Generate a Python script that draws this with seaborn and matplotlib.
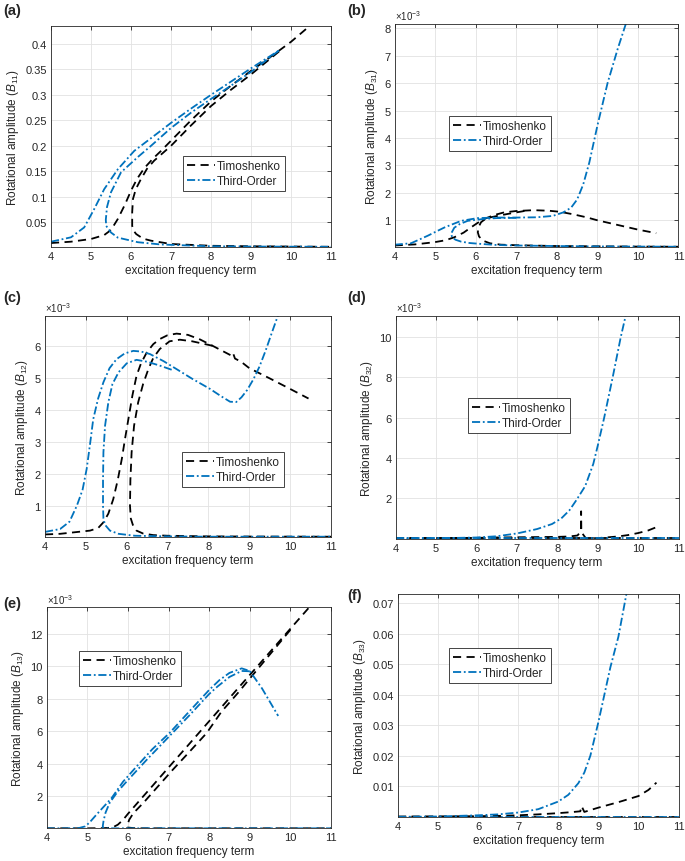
import matplotlib
matplotlib.use("Agg")
import matplotlib.pyplot as plt
import seaborn as sns

# ---------------- data ----------------
X_TICKS = [4, 5, 6, 7, 8, 9, 10, 11]
XLABEL = "excitation frequency term"
LEGEND_LABELS = ["Timoshenko", "Third-Order"]

# (a) B11
A_TIMO_UP_X = [4.0, 4.5, 5.0, 5.33, 5.5, 5.67, 5.85, 6.0, 6.15, 6.33, 6.55, 6.75, 7.0, 7.5, 8.0, 8.5, 9.0, 9.5, 10.0, 10.45]
A_TIMO_UP_Y = [0.0094, 0.012, 0.0173, 0.025, 0.035, 0.0565, 0.085, 0.112, 0.135, 0.156, 0.175, 0.19, 0.21, 0.25, 0.287, 0.318, 0.347, 0.375, 0.404, 0.434]
A_TIMO_MID_X = [9.7, 9.0, 8.5, 8.0, 7.5, 7.0, 6.58, 6.4, 6.25, 6.12, 6.05, 6.03, 6.03, 6.06, 6.13, 6.3, 6.5, 7.0, 8.0, 9.0, 10.0, 11.0]
A_TIMO_MID_Y = [0.385, 0.34, 0.31, 0.278, 0.24, 0.2, 0.171, 0.155, 0.135, 0.115, 0.096, 0.07, 0.043, 0.034, 0.027, 0.018, 0.014, 0.0075, 0.004, 0.003, 0.0025, 0.002]
A_THIRD_UP_X = [4.0, 4.5, 4.83, 5.08, 5.33, 5.67, 6.08, 6.5, 7.0, 7.5, 8.0, 8.5, 9.0, 9.7]
A_THIRD_UP_Y = [0.012, 0.0206, 0.04, 0.076, 0.115, 0.154, 0.19, 0.215, 0.245, 0.273, 0.30, 0.326, 0.352, 0.387]
A_THIRD_MID_X = [9.7, 9.0, 8.5, 8.0, 7.5, 7.0, 6.5, 6.17, 5.75, 5.5, 5.4, 5.37, 5.38, 5.5, 5.67, 6.17, 6.75, 8.0, 9.0, 11.0]
A_THIRD_MID_Y = [0.387, 0.345, 0.318, 0.292, 0.265, 0.235, 0.2, 0.178, 0.148, 0.109, 0.08, 0.055, 0.043, 0.03, 0.02, 0.011, 0.0065, 0.003, 0.0025, 0.002]
A_YTICKS = [0.05, 0.1, 0.15, 0.2, 0.25, 0.3, 0.35, 0.4]

# (b) B31  (values in units of 1e-3)
B_TIMO_UP_X = [4.0, 4.5, 4.98, 5.25, 5.47, 5.7, 5.88, 6.05, 6.21, 6.45, 6.7, 7.0, 7.43, 7.8, 8.08, 8.4, 8.73, 9.0, 9.5, 10.0, 10.45]
B_TIMO_UP_Y = [0.07, 0.11, 0.19, 0.26, 0.37, 0.54, 0.73, 0.9, 1.04, 1.18, 1.28, 1.33, 1.36, 1.34, 1.3, 1.21, 1.1, 0.99, 0.82, 0.65, 0.52]
B_TIMO_MID_X = [7.2, 6.85, 6.6, 6.37, 6.2, 6.13, 6.07, 6.05, 6.08, 6.17, 6.35, 6.62, 7.0, 8.0, 9.0, 10.0, 11.0]
B_TIMO_MID_Y = [1.33, 1.24, 1.17, 1.1, 1.0, 0.92, 0.75, 0.55, 0.4, 0.25, 0.15, 0.1, 0.08, 0.05, 0.04, 0.03, 0.025]
B_THIRD_UP_X = [4.0, 4.4, 4.82, 5.05, 5.23, 5.45, 5.64, 6.04, 6.5, 7.0, 7.5, 7.9, 8.16, 8.35, 8.5, 8.65, 8.8, 9.0, 9.25, 9.5, 9.7]
B_THIRD_UP_Y = [0.1, 0.15, 0.43, 0.6, 0.73, 0.86, 0.97, 1.07, 1.09, 1.09, 1.1, 1.15, 1.28, 1.45, 1.75, 2.3, 3.1, 4.45, 6.0, 7.25, 8.16]
B_THIRD_MID_X = [7.0, 6.5, 6.2, 5.8, 5.6, 5.47, 5.39, 5.42, 5.5, 5.64, 5.85, 6.1, 6.5, 7.0, 8.0, 9.0, 11.0]
B_THIRD_MID_Y = [1.08, 1.07, 1.04, 0.97, 0.85, 0.72, 0.5, 0.36, 0.28, 0.21, 0.16, 0.13, 0.09, 0.07, 0.05, 0.035, 0.025]
B_YTICKS = [1, 2, 3, 4, 5, 6, 7, 8]

# (c) B12  (values in units of 1e-3)
C_TIMO_UP_X = [4.0, 4.37, 5.1, 5.3, 5.43, 5.55, 5.67, 5.78, 5.88, 5.96, 6.04, 6.14, 6.24, 6.35, 6.49, 6.65, 6.81, 7.0, 7.22, 7.5, 7.79, 8.1, 8.4, 8.55, 8.6, 8.65, 8.8, 9.0, 9.5, 10.0, 10.45]
C_TIMO_UP_Y = [0.1, 0.12, 0.22, 0.3, 0.48, 0.75, 1.2, 1.8, 2.46, 3.1, 3.7, 4.45, 5.06, 5.45, 5.79, 6.05, 6.21, 6.33, 6.38, 6.34, 6.2, 6.0, 5.8, 5.7, 5.78, 5.6, 5.5, 5.3, 4.98, 4.65, 4.35]
C_TIMO_MID_X = [8.1, 7.6, 7.3, 7.05, 6.81, 6.65, 6.53, 6.4, 6.28, 6.18, 6.12, 6.09, 6.08, 6.1, 6.15, 6.24, 6.4, 6.65, 7.0, 8.0, 9.0, 11.0]
C_TIMO_MID_Y = [6.0, 6.14, 6.19, 6.14, 5.9, 5.62, 5.27, 4.8, 4.23, 3.5, 2.67, 1.8, 1.0, 0.6, 0.4, 0.22, 0.13, 0.08, 0.06, 0.04, 0.035, 0.03]
C_THIRD_UP_X = [4.0, 4.37, 4.6, 4.78, 4.92, 5.02, 5.1, 5.18, 5.3, 5.43, 5.58, 5.75, 5.95, 6.16, 6.35, 6.57, 6.9, 7.22, 7.6, 8.04, 8.3, 8.53, 8.68, 8.81, 8.95, 9.1, 9.25, 9.4, 9.55, 9.7]
C_THIRD_UP_Y = [0.18, 0.27, 0.5, 1.0, 1.5, 2.15, 2.9, 3.7, 4.35, 4.86, 5.3, 5.58, 5.76, 5.84, 5.82, 5.74, 5.52, 5.27, 4.97, 4.65, 4.43, 4.25, 4.24, 4.39, 4.62, 4.95, 5.35, 5.85, 6.4, 6.94]
C_THIRD_MID_X = [7.1, 6.81, 6.5, 6.24, 6.0, 5.8, 5.65, 5.55, 5.47, 5.43, 5.42, 5.42, 5.43, 5.47, 5.59, 5.8, 6.2, 7.0, 8.0, 11.0]
C_THIRD_MID_Y = [5.25, 5.38, 5.5, 5.56, 5.45, 5.17, 4.8, 4.23, 3.5, 2.67, 1.8, 1.0, 0.6, 0.4, 0.22, 0.12, 0.06, 0.04, 0.03, 0.03]
C_YTICKS = [1, 2, 3, 4, 5, 6]

# (d) B32  (values in units of 1e-3)
D_TIMO_UP_X = [4.0, 5.0, 6.0, 6.5, 7.0, 7.5, 8.0, 8.3, 8.5, 8.56, 8.585, 8.59, 8.595, 8.62, 8.7, 8.8, 9.0, 9.26, 9.5, 9.75, 10.0, 10.25, 10.45]
D_TIMO_UP_Y = [0.01, 0.02, 0.03, 0.05, 0.06, 0.07, 0.08, 0.1, 0.15, 0.3, 0.35, 1.35, 0.35, 0.25, 0.03, 0.02, 0.02, 0.06, 0.1, 0.17, 0.27, 0.4, 0.56]
D_TIMO_LOW_X = [4.0, 6.0, 8.0, 9.0, 11.0]
D_TIMO_LOW_Y = [0.01, 0.01, 0.01, 0.01, 0.01]
D_THIRD_UP_X = [4.0, 5.0, 6.0, 6.5, 7.0, 7.5, 7.87, 8.1, 8.3, 8.47, 8.69, 8.89, 9.0, 9.16, 9.37, 9.57, 9.69]
D_THIRD_UP_Y = [0.0, 0.01, 0.05, 0.11, 0.25, 0.47, 0.72, 1.0, 1.4, 1.9, 2.6, 3.7, 4.6, 6.0, 8.0, 10.0, 11.05]
D_THIRD_LOW_X = [4.0, 6.0, 8.0, 9.0, 11.0]
D_THIRD_LOW_Y = [0.0, 0.0, 0.0, 0.0, 0.0]
D_YTICKS = [2, 4, 6, 8, 10]

# (e) B13  (values in units of 1e-3)
E_TIMO_UP_X = [4.0, 5.0, 5.4, 5.55, 5.65, 5.75, 5.88, 6.0, 6.3, 6.6, 7.03, 7.4, 7.77, 8.1, 8.44, 8.84, 9.2, 9.6, 10.0, 10.45]
E_TIMO_UP_Y = [0.03, 0.03, 0.04, 0.06, 0.12, 0.25, 0.55, 0.92, 1.78, 2.63, 3.86, 4.91, 5.97, 6.91, 7.88, 9.02, 10.04, 11.18, 12.32, 13.6]
E_TIMO_MID_X = [10.0, 9.5, 9.0, 8.72, 8.3, 7.94, 7.5, 7.12, 6.7, 6.4, 6.13, 6.03, 5.99, 5.98, 6.2, 7.0, 9.0, 11.0]
E_TIMO_MID_Y = [12.25, 10.75, 9.25, 8.4, 7.2, 5.9, 4.7, 3.68, 2.5, 1.65, 0.95, 0.55, 0.25, 0.08, 0.03, 0.03, 0.03, 0.03]
E_THIRD_UP_X = [4.0, 4.5, 4.8, 4.95, 5.06, 5.2, 5.4, 5.6, 5.88, 6.2, 6.6, 7.04, 7.5, 8.0, 8.25, 8.5, 8.8, 9.0, 9.3, 9.7]
E_THIRD_UP_Y = [0.03, 0.03, 0.05, 0.15, 0.4, 0.8, 1.35, 1.9, 2.9, 3.8, 4.9, 5.94, 7.2, 8.55, 9.15, 9.6, 9.88, 9.72, 8.65, 6.95]
E_THIRD_MID_X = [9.0, 8.8, 8.5, 8.2, 8.0, 7.5, 7.0, 6.5, 6.0, 5.75, 5.55, 5.45, 5.4, 5.38, 5.4, 5.6, 6.0, 11.0]
E_THIRD_MID_Y = [9.7, 9.72, 9.35, 8.75, 8.3, 6.95, 5.65, 4.35, 3.0, 2.3, 1.6, 1.0, 0.5, 0.15, 0.03, 0.03, 0.03, 0.03]
E_YTICKS = [2, 4, 6, 8, 10, 12]

# (f) B33
F_TIMO_UP_X = [4.0, 5.0, 6.0, 6.5, 7.0, 7.5, 8.0, 8.3, 8.55, 8.58, 8.6, 8.65, 9.0, 9.5, 10.0, 10.25, 10.45]
F_TIMO_UP_Y = [0.0001, 0.00015, 0.0002, 0.0003, 0.0005, 0.0008, 0.0012, 0.0015, 0.0018, 0.0035, 0.003, 0.0016, 0.003, 0.0048, 0.0068, 0.0088, 0.0112]
F_TIMO_LOW_X = [4.0, 6.0, 8.0, 9.0, 11.0]
F_TIMO_LOW_Y = [0.0001, 0.0001, 0.0001, 0.0001, 0.0001]
F_THIRD_UP_X = [4.0, 5.0, 6.0, 6.5, 7.0, 7.5, 8.0, 8.25, 8.5, 8.65, 8.8, 9.0, 9.15, 9.3, 9.5, 9.6, 9.7]
F_THIRD_UP_Y = [0.0, 0.0001, 0.0005, 0.0008, 0.0014, 0.0025, 0.005, 0.0072, 0.011, 0.0145, 0.02, 0.031, 0.04, 0.049, 0.059, 0.066, 0.073]
F_THIRD_LOW_X = [4.0, 6.0, 8.0, 9.0, 11.0]
F_THIRD_LOW_Y = [0.0, 0.0, 0.0, 0.0, 0.0]
F_YTICKS = [0.01, 0.02, 0.03, 0.04, 0.05, 0.06, 0.07]

# ---------------- style ----------------
sns.set_theme(style="whitegrid", rc={
    "grid.color": "#e2e2e2", "grid.linewidth": 0.6,
    "axes.edgecolor": "#262626", "axes.linewidth": 0.6,
})
plt.rcParams["font.family"] = ["Liberation Sans", "DejaVu Sans"]
plt.rcParams["mathtext.fontset"] = "custom"
plt.rcParams["mathtext.rm"] = "Liberation Sans"
plt.rcParams["mathtext.it"] = "Liberation Sans:italic"

BLACK = "#000000"
BLUE = "#0072BD"
LS_TIMO = (0, (4.5, 3.0))
LS_THIRD = (0, (4.5, 1.5, 1.0, 1.5))
LW = 1.3

fig = plt.figure(figsize=(6.85, 8.62), dpi=100)
W, H = 685.0, 862.0


def add_ax(l, r, t, b):
    return fig.add_axes([l / W, 1 - b / H, (r - l) / W, (b - t) / H])


panels = [
    dict(box=(51, 331, 27, 248), ylim=(0.0016, 0.435), yticks=A_YTICKS, sci=False, sub="11",
         tag="(a)", tagpos=(3, 4), leg=(183, 157),
         timo=[(A_TIMO_UP_X, A_TIMO_UP_Y), (A_TIMO_MID_X, A_TIMO_MID_Y)],
         third=[(A_THIRD_UP_X, A_THIRD_UP_Y), (A_THIRD_MID_X, A_THIRD_MID_Y)]),
    dict(box=(394.7, 678.5, 25, 248), ylim=(0.015, 8.16), yticks=B_YTICKS, sci=True, sub="31",
         tag="(b)", tagpos=(347, 4), leg=(449, 117),
         timo=[(B_TIMO_UP_X, B_TIMO_UP_Y), (B_TIMO_MID_X, B_TIMO_MID_Y)],
         third=[(B_THIRD_UP_X, B_THIRD_UP_Y), (B_THIRD_MID_X, B_THIRD_MID_Y)]),
    dict(box=(45, 331, 316.7, 537.7), ylim=(0.03, 6.94), yticks=C_YTICKS, sci=True, sub="12",
         tag="(c)", tagpos=(3, 291), leg=(182, 453),
         timo=[(C_TIMO_UP_X, C_TIMO_UP_Y), (C_TIMO_MID_X, C_TIMO_MID_Y)],
         third=[(C_THIRD_UP_X, C_THIRD_UP_Y), (C_THIRD_MID_X, C_THIRD_MID_Y)]),
    dict(box=(395.7, 678.5, 316.7, 540), ylim=(-0.025, 11.07), yticks=D_YTICKS, sci=True, sub="32",
         tag="(d)", tagpos=(347, 291), leg=(468, 399),
         timo=[(D_TIMO_UP_X, D_TIMO_UP_Y), (D_TIMO_LOW_X, D_TIMO_LOW_Y)],
         third=[(D_THIRD_UP_X, D_THIRD_UP_Y), (D_THIRD_LOW_X, D_THIRD_LOW_Y)]),
    dict(box=(46.7, 331, 608.3, 829.3), ylim=(0.03, 13.64), yticks=E_YTICKS, sci=True, sub="13",
         tag="(e)", tagpos=(3, 597), leg=(79, 652),
         timo=[(E_TIMO_UP_X, E_TIMO_UP_Y), (E_TIMO_MID_X, E_TIMO_MID_Y)],
         third=[(E_THIRD_UP_X, E_THIRD_UP_Y), (E_THIRD_MID_X, E_THIRD_MID_Y)]),
    dict(box=(398, 678.5, 595, 818.3), ylim=(-0.00016, 0.073), yticks=F_YTICKS, sci=False, sub="33",
         tag="(f)", tagpos=(347, 589), leg=(449, 649),
         timo=[(F_TIMO_UP_X, F_TIMO_UP_Y), (F_TIMO_LOW_X, F_TIMO_LOW_Y)],
         third=[(F_THIRD_UP_X, F_THIRD_UP_Y), (F_THIRD_LOW_X, F_THIRD_LOW_Y)]),
]

for p in panels:
    ax = add_ax(*p["box"])
    for i, (xs, ys) in enumerate(p["timo"]):
        sns.lineplot(x=xs, y=ys, ax=ax, sort=False, estimator=None, color=BLACK,
                     linestyle=LS_TIMO, lw=LW,
                     label=LEGEND_LABELS[0] if i == 0 else "_nolegend_")
    for i, (xs, ys) in enumerate(p["third"]):
        sns.lineplot(x=xs, y=ys, ax=ax, sort=False, estimator=None, color=BLUE,
                     linestyle=LS_THIRD, lw=LW,
                     label=LEGEND_LABELS[1] if i == 0 else "_nolegend_")
    ax.set_xlim(4, 11)
    ax.set_ylim(*p["ylim"])
    ax.set_xticks(X_TICKS)
    ax.set_yticks(p["yticks"])
    ax.set_xticklabels([f"{v:g}" for v in X_TICKS])
    ax.set_yticklabels([f"{v:g}" for v in p["yticks"]])
    ax.tick_params(direction="in", length=3, width=0.6, top=True, right=True,
                   labelsize=8, pad=3, colors="#262626", labelcolor="#262626")
    ax.set_xlabel(XLABEL, fontsize=8.5, color="#262626", labelpad=2)
    ax.set_ylabel(r"Rotational amplitude ($B_{" + p["sub"] + r"}$)", fontsize=8.5,
                  color="#262626", labelpad=3)
    for s in ax.spines.values():
        s.set_visible(True)
        s.set_color("#262626")
        s.set_linewidth(0.6)
    ax.grid(True, color="#e2e2e2", linewidth=0.6)
    if p["sci"]:
        ax.text(0.0, 1.008, r"$\times10^{-3}$", transform=ax.transAxes, fontsize=7,
                color="#262626", ha="left", va="bottom")
    fig.text(p["tagpos"][0] / W, 1 - p["tagpos"][1] / H, p["tag"], fontsize=10.5,
             fontweight="bold", ha="left", va="top")
    lx, ly = p["leg"]
    leg = ax.legend(loc="upper left", bbox_to_anchor=(lx / W, 1 - ly / H),
                    bbox_transform=fig.transFigure, fontsize=8.5, frameon=True,
                    fancybox=False, framealpha=1, edgecolor="#262626",
                    borderpad=0.35, labelspacing=0.25, handlelength=2.4,
                    handletextpad=0.15, borderaxespad=0)
    leg.get_frame().set_linewidth(0.6)

fig.savefig("out.png", dpi=100)
